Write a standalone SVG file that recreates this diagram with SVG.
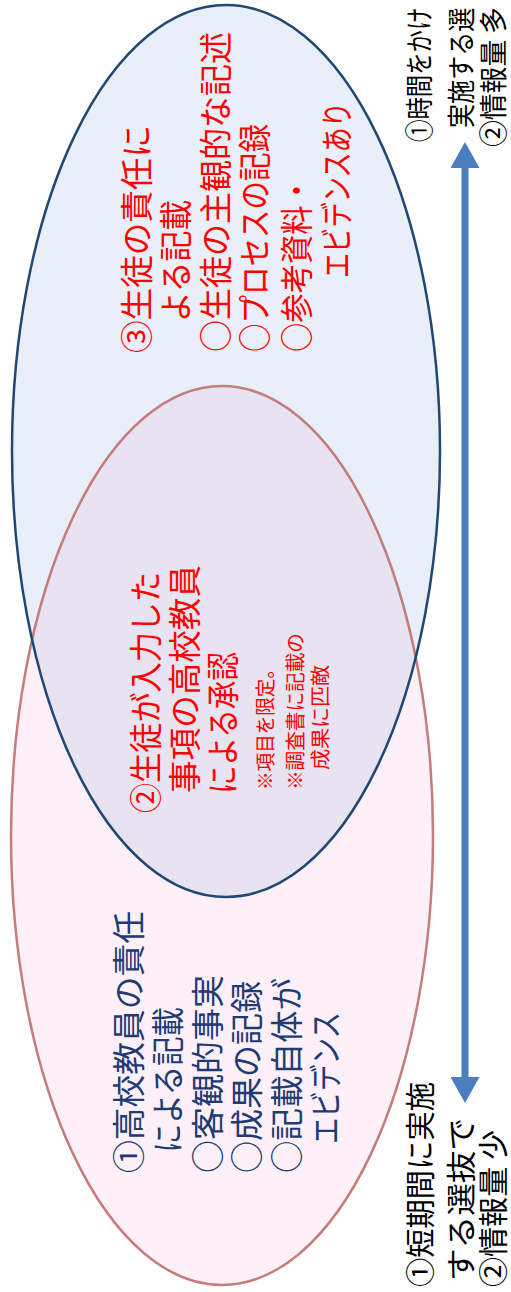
<svg xmlns="http://www.w3.org/2000/svg" width="511" height="1292" viewBox="0 0 511 1292">
  <style>
    .t { font-family: "Noto Sans CJK JP", "Noto Sans CJK SC", sans-serif; }
    .big { font-size: 33px; }
    .small { font-size: 20px; }
    .navy { fill: #203a74; }
    .red { fill: #ff0000; }
    .blk { fill: #000000; }
    .pinkfill { fill: #fdf0f8; }
    .bluefill { fill: #e8eff8; }
    .overlapfill { fill: #e7e3f0; }
    .pinkline { fill: none; stroke: #c47c7c; stroke-width: 2.5; }
    .blueline { fill: none; stroke: #1f4873; stroke-width: 2.5; }
    .arrow { stroke: #4a7ebf; stroke-width: 7; fill: none; }
  </style>
  <defs>
    <clipPath id="clipBlue">
      <ellipse cx="226" cy="451" rx="214" ry="446"/>
    </clipPath>
    <marker id="head" markerUnits="userSpaceOnUse" markerWidth="26" markerHeight="29" viewBox="0 0 26 29" refX="0" refY="14.5" orient="auto-start-reverse">
      <path d="M0,0 L26,14.5 L0,29 z" fill="#4a7ebf"/>
    </marker>
  </defs>
  <rect x="0" y="0" width="511" height="1292" fill="#ffffff"/>

  <g id="venn-fills">
    <ellipse class="pinkfill" cx="222" cy="835.5" rx="211" ry="449.5"/>
    <ellipse class="bluefill" cx="226" cy="451" rx="214" ry="446"/>
    <ellipse class="overlapfill" cx="222" cy="835.5" rx="211" ry="449.5" clip-path="url(#clipBlue)"/>
  </g>

  <g id="node-teacher">
    <ellipse class="pinkline" cx="222" cy="835.5" rx="211" ry="449.5"/>
    <g transform="translate(0,1292) rotate(-90)" class="t big navy">
      <text x="119" y="141" textLength="262" lengthAdjust="spacingAndGlyphs">①高校教員の責任</text>
      <text x="139" y="180" textLength="146" lengthAdjust="spacingAndGlyphs">による記載</text>
      <text x="119" y="220" textLength="198" lengthAdjust="spacingAndGlyphs">○客観的事実</text>
      <text x="119" y="259" textLength="192" lengthAdjust="spacingAndGlyphs">○成果の記録</text>
      <text x="119" y="299" textLength="195" lengthAdjust="spacingAndGlyphs">○記載自体が</text>
      <text x="148" y="338" textLength="132" lengthAdjust="spacingAndGlyphs">エビデンス</text>
    </g>
  </g>

  <g id="node-student">
    <ellipse class="blueline" cx="226" cy="451" rx="214" ry="446"/>
    <g transform="translate(0,1292) rotate(-90)" class="t big red">
      <text x="939" y="149" textLength="228" lengthAdjust="spacingAndGlyphs">③生徒の責任に</text>
      <text x="970" y="188" textLength="122" lengthAdjust="spacingAndGlyphs">よる記載</text>
      <text x="940" y="228" textLength="320" lengthAdjust="spacingAndGlyphs">○生徒の主観的な記述</text>
      <text x="940" y="267" textLength="228" lengthAdjust="spacingAndGlyphs">○プロセスの記録</text>
      <text x="940" y="309" textLength="176" lengthAdjust="spacingAndGlyphs">○参考資料・</text>
      <text x="1014" y="349" textLength="176" lengthAdjust="spacingAndGlyphs">エビデンスあり</text>
    </g>
  </g>

  <g id="node-shared">
    <g transform="translate(0,1292) rotate(-90)" class="t red">
      <text class="big" x="479" y="158" textLength="241" lengthAdjust="spacingAndGlyphs">②生徒が入力した</text>
      <text class="big" x="499" y="197" textLength="228" lengthAdjust="spacingAndGlyphs">事項の高校教員</text>
      <text class="big" x="498" y="235" textLength="142" lengthAdjust="spacingAndGlyphs">による承認</text>
      <text class="small" x="502" y="273" textLength="130" lengthAdjust="spacingAndGlyphs">※項目を限定。</text>
      <text class="small" x="502" y="303" textLength="157" lengthAdjust="spacingAndGlyphs">※調査書に記載の</text>
      <text class="small" x="522" y="328" textLength="105" lengthAdjust="spacingAndGlyphs">成果に匹敵</text>
    </g>
  </g>

  <g id="connectors">
    <line class="arrow" x1="465" y1="168" x2="465" y2="1077" marker-start="url(#head)" marker-end="url(#head)"/>
  </g>

  <g id="label-long">
    <g transform="translate(0,1292) rotate(-90)" class="t blk" style="font-size:28px">
      <text transform="translate(1150,430) scale(0.8,1)" x="0" y="0">①時間をかけ</text>
      <text transform="translate(1164,472) scale(0.86,1)" x="0" y="0">実施する選</text>
      <text x="1145" y="504" textLength="140" lengthAdjust="spacingAndGlyphs">②情報量 多</text>
    </g>
  </g>

  <g id="label-short">
    <g transform="translate(0,1292) rotate(-90)" class="t blk" style="font-size:30px">
      <text x="5" y="431" textLength="205" lengthAdjust="spacingAndGlyphs">①短期間に実施</text>
      <text x="11" y="472" textLength="163" lengthAdjust="spacingAndGlyphs">する選抜で</text>
      <text x="5" y="504" textLength="157" lengthAdjust="spacingAndGlyphs">②情報量 少</text>
    </g>
  </g>
</svg>
